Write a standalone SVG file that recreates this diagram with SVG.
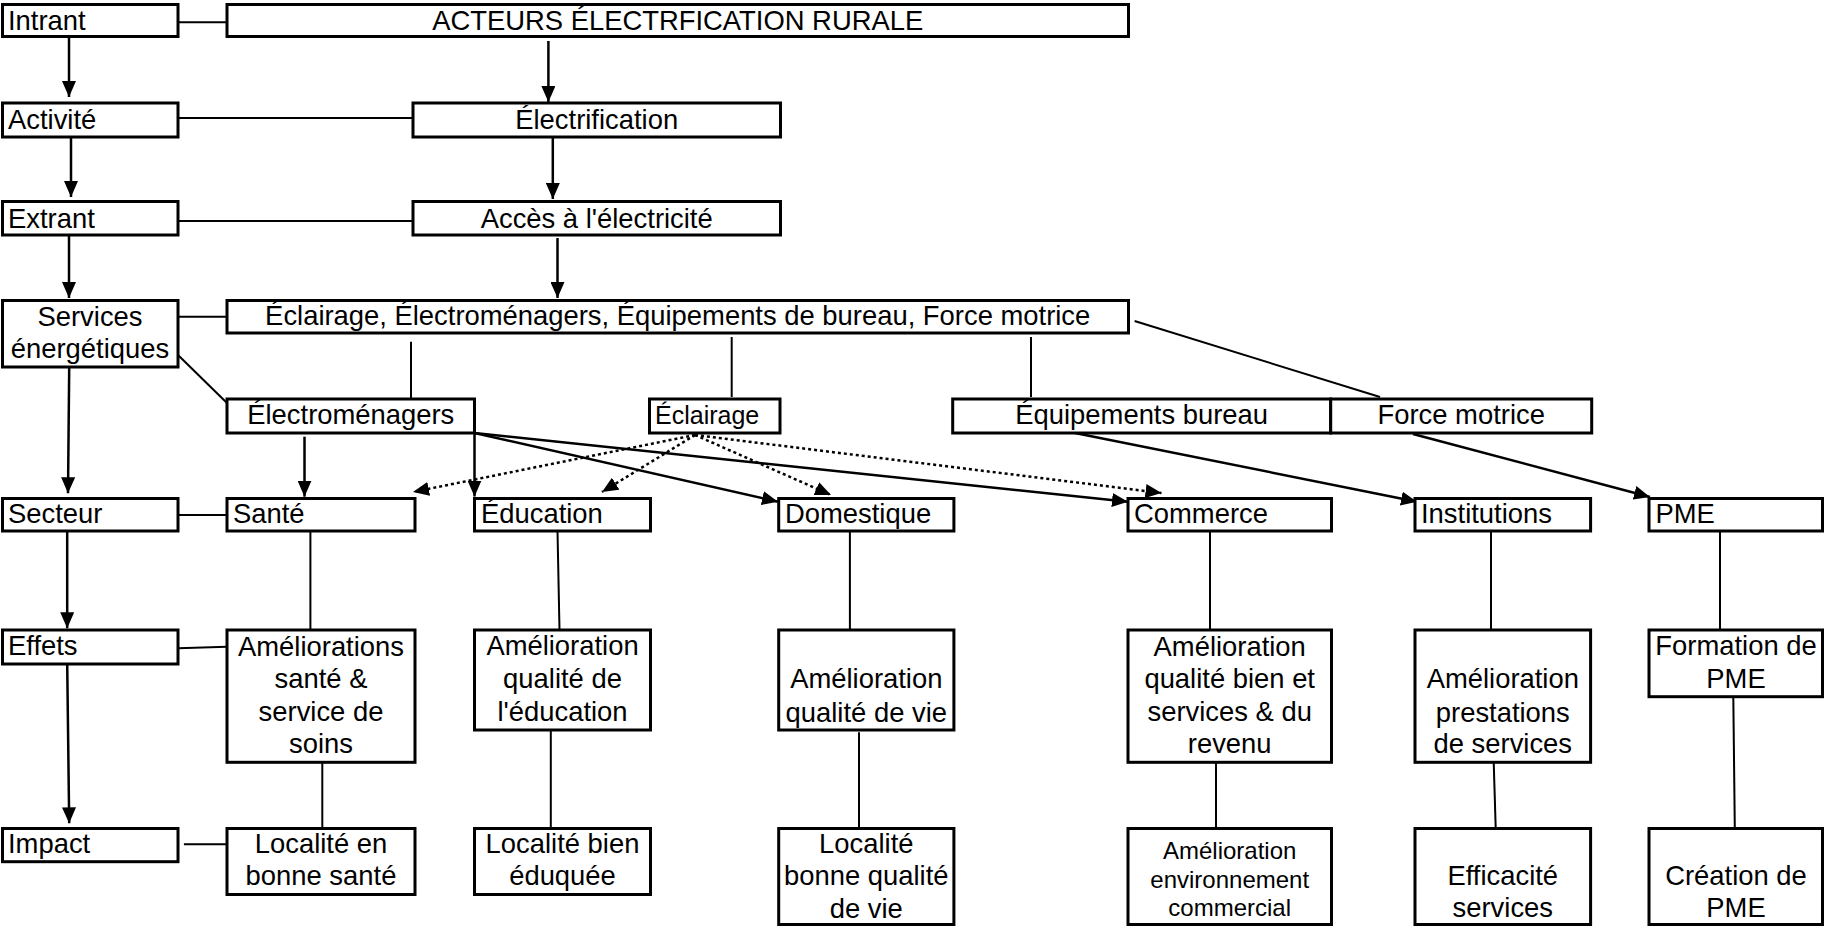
<svg xmlns="http://www.w3.org/2000/svg" width="1825" height="927" viewBox="0 0 1825 927">
<style>
.box{fill:#fff;stroke:#000;stroke-width:3}
.t{font-family:"Liberation Sans",Arial,sans-serif;font-size:27.4px;fill:#000}
.c{text-anchor:middle}
.s24{font-size:25px}
.s22{font-size:24px}
.conn{stroke:#000;stroke-width:2;fill:none}
.arr{stroke:#000;stroke-width:2.5;fill:none;marker-end:url(#ah)}
.dot{stroke:#000;stroke-width:2.5;fill:none;stroke-dasharray:3 3;marker-end:url(#ah)}
</style>
<defs>
<marker id="ah" markerUnits="userSpaceOnUse" markerWidth="16" markerHeight="14" refX="16" refY="7" orient="auto">
<path d="M0,0 L16,7 L0,14 z" fill="#000"/>
</marker>
</defs>
<rect width="1825" height="927" fill="#fff"/>
<g id="connectors">
<line class="conn" x1="178" y1="22.3" x2="227" y2="22.3"/>
<line class="conn" x1="178" y1="118" x2="413" y2="118"/>
<line class="conn" x1="178" y1="221" x2="413" y2="221"/>
<line class="conn" x1="178" y1="316.7" x2="227" y2="316.7"/>
<line class="conn" x1="411" y1="341.7" x2="411" y2="398"/>
<line class="conn" x1="178" y1="355" x2="227" y2="403"/>
<line class="conn" x1="731.7" y1="337" x2="731.7" y2="397"/>
<line class="conn" x1="1031" y1="337" x2="1031" y2="397"/>
<line class="conn" x1="1134.6" y1="321" x2="1380" y2="397"/>
<line class="conn" x1="174" y1="515" x2="227" y2="515"/>
<line class="conn" x1="310.4" y1="531" x2="310.4" y2="630"/>
<line class="conn" x1="557.5" y1="531" x2="559.5" y2="630"/>
<line class="conn" x1="849.9" y1="531" x2="849.9" y2="630"/>
<line class="conn" x1="1210" y1="531" x2="1210" y2="630"/>
<line class="conn" x1="1491" y1="531" x2="1491" y2="630"/>
<line class="conn" x1="1720" y1="531" x2="1720" y2="631.7"/>
<line class="conn" x1="178" y1="648.3" x2="227" y2="646.7"/>
<line class="conn" x1="322.3" y1="762" x2="322.3" y2="828"/>
<line class="conn" x1="550.8" y1="730" x2="550.8" y2="830"/>
<line class="conn" x1="859" y1="732.3" x2="859" y2="828"/>
<line class="conn" x1="1216" y1="762" x2="1216" y2="830"/>
<line class="conn" x1="1493.7" y1="762" x2="1495.7" y2="828"/>
<line class="conn" x1="1733.3" y1="696.7" x2="1734.9" y2="836.7"/>
<line class="conn" x1="183.9" y1="844.3" x2="227" y2="844.3"/>
<line class="arr" x1="69" y1="37" x2="69" y2="97"/>
<line class="arr" x1="71" y1="137" x2="71" y2="197"/>
<line class="arr" x1="69" y1="235" x2="69" y2="298"/>
<line class="arr" x1="69.2" y1="367" x2="68" y2="493.3"/>
<line class="arr" x1="67.2" y1="531" x2="67.2" y2="628.3"/>
<line class="arr" x1="67.2" y1="664" x2="69.2" y2="823.3"/>
<line class="arr" x1="548.4" y1="41" x2="548.4" y2="102"/>
<line class="arr" x1="552.8" y1="137" x2="552.8" y2="199"/>
<line class="arr" x1="557.5" y1="238" x2="557.5" y2="298"/>
<line class="arr" x1="304.5" y1="436.7" x2="304.5" y2="496.7"/>
<line class="arr" x1="474.5" y1="433" x2="474.5" y2="496.5"/>
<line class="arr" x1="474.5" y1="433" x2="778" y2="501.7"/>
<line class="arr" x1="474.5" y1="433" x2="1128" y2="501.7"/>
<line class="arr" x1="1075" y1="433" x2="1417" y2="501.7"/>
<line class="arr" x1="1413" y1="434" x2="1650" y2="497"/>
<line class="dot" x1="695" y1="435" x2="413" y2="492"/>
<line class="dot" x1="695" y1="435" x2="602" y2="492"/>
<line class="dot" x1="695" y1="435" x2="831" y2="495"/>
<line class="dot" x1="695" y1="435" x2="1161.5" y2="493"/>
</g>
<g id="intrant"><rect class="box" x="2.5" y="4.5" width="175.5" height="32"/><text class="t" x="8" y="30">Intrant</text></g>
<g id="acteurs"><rect class="box" x="227" y="4.5" width="901.5" height="32"/><text class="t c" x="677.7" y="30">ACTEURS ÉLECTRFICATION RURALE</text></g>
<g id="activite"><rect class="box" x="2.5" y="103" width="175.5" height="34"/><text class="t" x="8" y="129">Activité</text></g>
<g id="electrification"><rect class="box" x="413" y="103" width="367.5" height="34"/><text class="t c" x="596.7" y="129">Électrification</text></g>
<g id="extrant"><rect class="box" x="2.5" y="201.5" width="175.5" height="33.5"/><text class="t" x="8" y="228">Extrant</text></g>
<g id="acces"><rect class="box" x="413" y="201.5" width="367.5" height="33.5"/><text class="t c" x="596.7" y="228">Accès à l'électricité</text></g>
<g id="services"><rect class="box" x="2.5" y="300.5" width="175.5" height="66.5"/><text class="t c" x="90" y="325.7">Services</text><text class="t c" x="90" y="358.3">énergétiques</text></g>
<g id="usages"><rect class="box" x="227" y="300.5" width="901.5" height="32.5"/><text class="t c" x="677.7" y="325">Éclairage, Électroménagers, Équipements de bureau, Force motrice</text></g>
<g id="electromenagers"><rect class="box" x="227" y="399" width="247.5" height="34"/><text class="t c" x="350.8" y="424">Électroménagers</text></g>
<g id="eclairage"><rect class="box" x="649.5" y="399" width="130.5" height="34"/><text class="t s24" x="655" y="424">Éclairage</text></g>
<g id="equipements"><rect class="box" x="952.7" y="399" width="378" height="34"/><text class="t c" x="1141.7" y="424">Équipements bureau</text></g>
<g id="force"><rect class="box" x="1330.7" y="399" width="261" height="34"/><text class="t c" x="1461.2" y="424">Force motrice</text></g>
<g id="secteur"><rect class="box" x="2.5" y="498.5" width="175.5" height="32.5"/><text class="t" x="8" y="522.7">Secteur</text></g>
<g id="sante"><rect class="box" x="227" y="498.5" width="188" height="32.5"/><text class="t" x="233" y="522.7">Santé</text></g>
<g id="education"><rect class="box" x="474.5" y="498.5" width="176" height="32.5"/><text class="t" x="481" y="522.7">Éducation</text></g>
<g id="domestique"><rect class="box" x="778.7" y="498.5" width="175.2" height="32.5"/><text class="t" x="785" y="522.7">Domestique</text></g>
<g id="commerce"><rect class="box" x="1128" y="498.5" width="203.5" height="32.5"/><text class="t" x="1134" y="522.7">Commerce</text></g>
<g id="institutions"><rect class="box" x="1415" y="498.5" width="175.6" height="32.5"/><text class="t" x="1421" y="522.7">Institutions</text></g>
<g id="pme"><rect class="box" x="1649" y="498.5" width="173.5" height="32.5"/><text class="t" x="1655.5" y="522.7">PME</text></g>
<g id="effets"><rect class="box" x="2.5" y="630" width="175.5" height="34"/><text class="t" x="8" y="655">Effets</text></g>
<g id="amel-sante"><rect class="box" x="227" y="630" width="188" height="132.3"/><text class="t c" x="321" y="655.7">Améliorations</text><text class="t c" x="321" y="688">santé &amp;</text><text class="t c" x="321" y="721">service de</text><text class="t c" x="321" y="753">soins</text></g>
<g id="amel-educ"><rect class="box" x="474.5" y="630" width="176" height="100"/><text class="t c" x="562.5" y="655.3">Amélioration</text><text class="t c" x="562.5" y="688.3">qualité de</text><text class="t c" x="562.5" y="721.3">l'éducation</text></g>
<g id="amel-vie"><rect class="box" x="778.7" y="630" width="175.2" height="100"/><text class="t c" x="866.3" y="688.3">Amélioration</text><text class="t c" x="866.3" y="721.5">qualité de vie</text></g>
<g id="amel-comm"><rect class="box" x="1128" y="630" width="203.5" height="132.3"/><text class="t c" x="1229.7" y="655.7">Amélioration</text><text class="t c" x="1229.7" y="688">qualité bien et</text><text class="t c" x="1229.7" y="721">services &amp; du</text><text class="t c" x="1229.7" y="753">revenu</text></g>
<g id="amel-inst"><rect class="box" x="1415" y="630" width="175.6" height="132.3"/><text class="t c" x="1502.8" y="688.3">Amélioration</text><text class="t c" x="1502.8" y="721.5">prestations</text><text class="t c" x="1502.8" y="753.3">de services</text></g>
<g id="formation"><rect class="box" x="1649" y="630" width="173.5" height="66.7"/><text class="t c" x="1736" y="655">Formation de</text><text class="t c" x="1736" y="688.3">PME</text></g>
<g id="impact"><rect class="box" x="2.5" y="828.5" width="175.5" height="33.2"/><text class="t" x="8" y="852.7">Impact</text></g>
<g id="loc-sante"><rect class="box" x="227" y="828.5" width="188" height="66"/><text class="t c" x="321" y="852.7">Localité en</text><text class="t c" x="321" y="885">bonne santé</text></g>
<g id="loc-educ"><rect class="box" x="474.5" y="828.5" width="176" height="66"/><text class="t c" x="562.5" y="852.7">Localité bien</text><text class="t c" x="562.5" y="885">éduquée</text></g>
<g id="loc-vie"><rect class="box" x="778.7" y="828.5" width="175.2" height="96"/><text class="t c" x="866.3" y="852.7">Localité</text><text class="t c" x="866.3" y="885">bonne qualité</text><text class="t c" x="866.3" y="918.3">de vie</text></g>
<g id="env-comm"><rect class="box" x="1128" y="828.5" width="203.5" height="96"/><text class="t c s22" x="1229.7" y="859">Amélioration</text><text class="t c s22" x="1229.7" y="888">environnement</text><text class="t c s22" x="1229.7" y="916">commercial</text></g>
<g id="efficacite"><rect class="box" x="1415" y="828.5" width="175.6" height="96"/><text class="t c" x="1502.8" y="885">Efficacité</text><text class="t c" x="1502.8" y="916.7">services</text></g>
<g id="creation"><rect class="box" x="1649" y="828.5" width="173.5" height="96"/><text class="t c" x="1736" y="885">Création de</text><text class="t c" x="1736" y="916.7">PME</text></g>
</svg>
